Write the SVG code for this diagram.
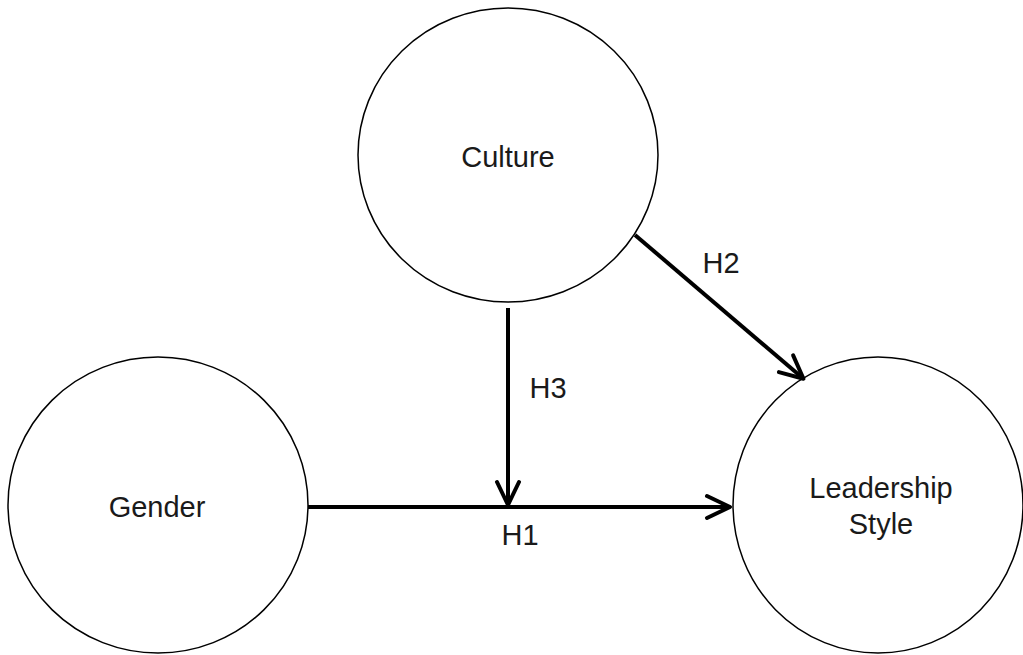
<svg xmlns="http://www.w3.org/2000/svg" width="1023" height="655" viewBox="0 0 1023 655">
<style>
.node{fill:#fff;stroke:#000;stroke-width:1.5}
.lbl{font-family:"Liberation Sans",Arial,sans-serif;font-size:29px;fill:#1a1a1a;text-anchor:middle}
.edge{fill:none;stroke:#000;stroke-width:4}
</style>
<defs>
<marker id="arr" markerUnits="userSpaceOnUse" markerWidth="30" markerHeight="30" refX="0" refY="0" orient="auto" overflow="visible">
<path d="M-23,-11 L0,0 L-23,11" fill="none" stroke="#000" stroke-width="4" stroke-linecap="round" stroke-linejoin="round"/>
</marker>
</defs>
<rect width="1023" height="655" fill="#fff"/>
<g id="culture">
<ellipse class="node" cx="508" cy="155" rx="150" ry="147"/>
<text class="lbl" x="508" y="167">Culture</text>
</g>
<g id="gender">
<ellipse class="node" cx="158" cy="505" rx="150" ry="148"/>
<text class="lbl" x="157" y="517">Gender</text>
</g>
<g id="leadership">
<ellipse class="node" cx="878" cy="505" rx="145" ry="148"/>
<text class="lbl" x="881" y="498">Leadership</text>
<text class="lbl" x="881" y="534">Style</text>
</g>
<g id="connectors">
<line class="edge" x1="308" y1="507" x2="730" y2="507" marker-end="url(#arr)"/>
<line class="edge" x1="508" y1="308" x2="508" y2="505" marker-end="url(#arr)"/>
<line class="edge" x1="635" y1="235" x2="803.5" y2="378.7" marker-end="url(#arr)"/>
<text class="lbl" x="520" y="545">H1</text>
<text class="lbl" x="721" y="273">H2</text>
<text class="lbl" x="548" y="398">H3</text>
</g>
</svg>
